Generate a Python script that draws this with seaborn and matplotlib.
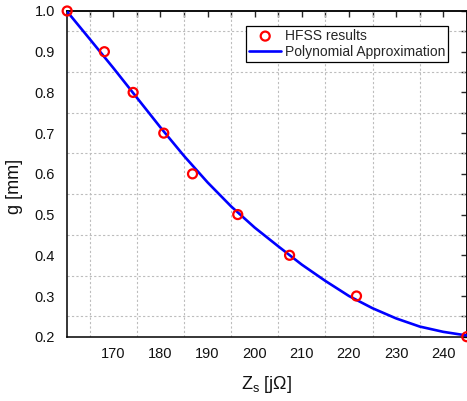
import matplotlib
matplotlib.use("Agg")
import matplotlib.pyplot as plt
import seaborn as sns
import pandas as pd
from matplotlib.ticker import MultipleLocator, FormatStrFormatter

# HFSS results
zs_hfss = [160.2, 168.1, 174.2, 180.7, 186.8, 196.4, 207.4, 221.6, 245.0]
g_hfss = [1.0, 0.9, 0.8, 0.7, 0.6, 0.5, 0.4, 0.3, 0.2]

# Polynomial approximation curve
zs_poly = [160.1, 165, 170, 175, 180, 185, 190, 195, 200, 205, 210, 215,
           220, 225, 230, 235, 240, 245]
g_poly = [1.000, 0.931, 0.860, 0.787, 0.714, 0.644, 0.579, 0.520, 0.468,
          0.422, 0.377, 0.337, 0.300, 0.270, 0.245, 0.225, 0.212, 0.203]

xticks = [170, 180, 190, 200, 210, 220, 230, 240]
yticks = [0.2, 0.3, 0.4, 0.5, 0.6, 0.7, 0.8, 0.9, 1.0]

sns.set_theme(style="white")
plt.rcParams["font.family"] = ["Liberation Sans", "DejaVu Sans"]
plt.rcParams["mathtext.fontset"] = "custom"
plt.rcParams["mathtext.rm"] = "Liberation Sans"
plt.rcParams["mathtext.it"] = "Liberation Sans:italic"

fig = plt.figure(figsize=(4.67, 4.01), dpi=100)
ax = fig.add_axes([0.1428, 0.1603, 0.8567, 0.8123])

df_pts = pd.DataFrame({"Zs": zs_hfss, "g": g_hfss})
df_line = pd.DataFrame({"Zs": zs_poly, "g": g_poly})

sns.lineplot(data=df_line, x="Zs", y="g", ax=ax, color="#0000ff", linewidth=1.9,
             label="Polynomial Approximation", zorder=3, sort=False)
sns.scatterplot(data=df_pts, x="Zs", y="g", ax=ax, marker="o", s=42,
                facecolor="none", edgecolor="#ff0000", linewidth=1.6,
                label="HFSS results", zorder=4, clip_on=False)

ax.set_xlim(160.1, 245)
ax.set_ylim(0.2, 1.0)
ax.set_xticks(xticks)
ax.set_yticks(yticks)
ax.xaxis.set_minor_locator(MultipleLocator(5))
ax.yaxis.set_minor_locator(MultipleLocator(0.05))
ax.yaxis.set_major_formatter(FormatStrFormatter("%.1f"))

ax.grid(False)
ax.grid(which="minor", linestyle=(0, (2, 2)), color="#bdbdbd", linewidth=0.8)
ax.set_axisbelow(True)

for sp in ax.spines.values():
    sp.set_color("black")
    sp.set_linewidth(1.1)
    sp.set_visible(True)

ax.tick_params(which="major", direction="out", length=5.5, width=1.0,
               labelsize=10.5, colors="black", pad=2, labelcolor="#111111")
ax.tick_params(which="minor", direction="out", length=3, width=1.0, colors="black")
ax.tick_params(axis="y", which="major", pad=3)

secx = ax.secondary_xaxis("top")
secx.set_xticks(xticks)
secx.xaxis.set_minor_locator(MultipleLocator(5))
secx.tick_params(which="both", direction="in", length=4.5, width=1.0, labeltop=False)
secx.spines["top"].set_linewidth(1.1)
secy = ax.secondary_yaxis("right")
secy.set_yticks(yticks)
secy.yaxis.set_minor_locator(MultipleLocator(0.05))
secy.tick_params(which="both", direction="in", length=4.5, width=1.0, labelright=False)

ax.set_xlabel("Z$_\\mathregular{s}$ [jΩ]", fontsize=13, color="#111111")
ax.set_ylabel("g [mm]", fontsize=13, color="#111111")
ax.xaxis.set_label_coords(0.5, -0.115)
ax.yaxis.set_label_coords(-0.108, 0.46)

handles, labels = ax.get_legend_handles_labels()
order = [labels.index("HFSS results"), labels.index("Polynomial Approximation")]
leg = ax.legend([handles[i] for i in order], [labels[i] for i in order],
                loc="upper right", bbox_to_anchor=(0.9526, 0.954),
                fontsize=10, frameon=True, fancybox=False, framealpha=1,
                edgecolor="black", borderpad=0.2, labelspacing=0.15,
                handlelength=2.3, handletextpad=0.25, borderaxespad=0)
leg.get_frame().set_linewidth(0.9)

fig.savefig("out.png", dpi=100)
